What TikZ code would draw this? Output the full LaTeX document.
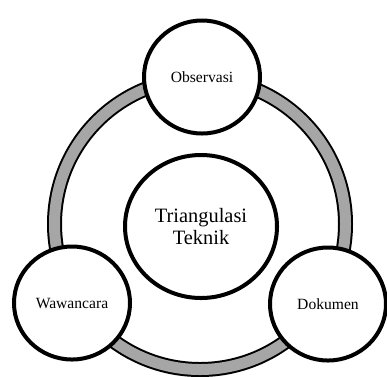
\documentclass[tikz,border=0pt]{standalone}
\usepackage{fontspec}
\setmainfont{Liberation Serif}
\usetikzlibrary{shapes.geometric}
\definecolor{abu}{HTML}{A6A6A6}

\begin{document}
\begin{tikzpicture}[
  x=1pt, y=-1pt,
  lingkaran/.style={ellipse, draw, line width=4pt, fill=white, minimum width=116pt, minimum height=113pt, inner sep=0pt, align=center, font=\fontsize{15.6}{18}\selectfont},
  lingkaranbesar/.style={lingkaran, minimum width=152pt, minimum height=143pt, font=\fontsize{20.4}{21.5}\selectfont},
  cincin/.style={line width=15pt, black},
  isicincin/.style={line width=11pt, abu}
]
\useasboundingbox (0,0) rectangle (387,376);
\coordinate (pusat) at (200,224);
\draw[cincin] (pusat) circle (145.5pt);
\draw[isicincin] (pusat) circle (145.5pt);
\node[lingkaranbesar] (teknik) at (201,226.5) {Triangulasi\\Teknik};
\node[lingkaran] (obs) at (202,77) {Observasi};
\node[lingkaran] (waw) at (72,303) {Wawancara};
\node[lingkaran] (dok) at (328,304) {Dokumen};
\end{tikzpicture}
\end{document}
